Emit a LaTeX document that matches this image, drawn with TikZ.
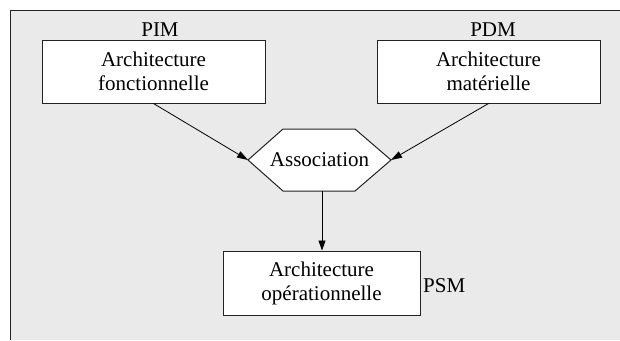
\documentclass[tikz,border=0pt]{standalone}
\usepackage{fontspec}
\setmainfont{Liberation Serif}
\usetikzlibrary{arrows.meta}
\definecolor{bggray}{HTML}{EAEAEA}
\definecolor{edge}{HTML}{222222}
\tikzset{
  box/.style={draw=edge, line width=1pt, fill=white, align=center, inner sep=0pt,
    font=\fontsize{21}{24}\selectfont},
  lbl/.style={font=\fontsize{21}{24}\selectfont, inner sep=0pt},
  arr/.style={draw=black, line width=0.8pt, -{Triangle[length=11pt,width=7pt]}},
}
\begin{document}
\begin{tikzpicture}[x=1pt,y=-1pt]
\useasboundingbox (0,0) rectangle (620,340);
\fill[bggray] (10,10) rectangle (620,340);
\draw[edge, line width=1pt] (620,10) -- (10.5,10) -- (10.5,340);
% boxes
\node[box, minimum width=223pt, minimum height=63pt] (pim) at (153.5,71.5) {Architecture\\fonctionnelle};
\node[box, minimum width=223pt, minimum height=63pt] (pdm) at (488.5,71.5) {Architecture\\matérielle};
\node[box, minimum width=197pt, minimum height=64pt] (bot) at (321.5,283) {Architecture\\opérationnelle};
% labels
\node[lbl, anchor=base] (pimlbl) at (160,36) {PIM};
\node[lbl, anchor=base] (pdmlbl) at (493,36) {PDM};
\node[lbl, anchor=base west] (psmlbl) at (423,292) {PSM};
% hexagon
\coordinate (hexL) at (248,160);
\coordinate (hexR) at (391,160);
\coordinate (hexB) at (322,191);
\filldraw[fill=white, draw=edge, line width=1pt]
  (hexL) -- (283,129) -- (355,129) -- (hexR) -- (355,191) -- (283,191) -- cycle;
\node[lbl] (assoc) at (319.5,160) {Association};
% connectors
\draw[arr] (pim.south) -- (hexL);
\draw[arr] (pdm.south) -- (hexR);
\draw[arr, -{Triangle[length=10pt,width=7pt]}] (hexB) -- (bot.north -| hexB);
\end{tikzpicture}
\end{document}
